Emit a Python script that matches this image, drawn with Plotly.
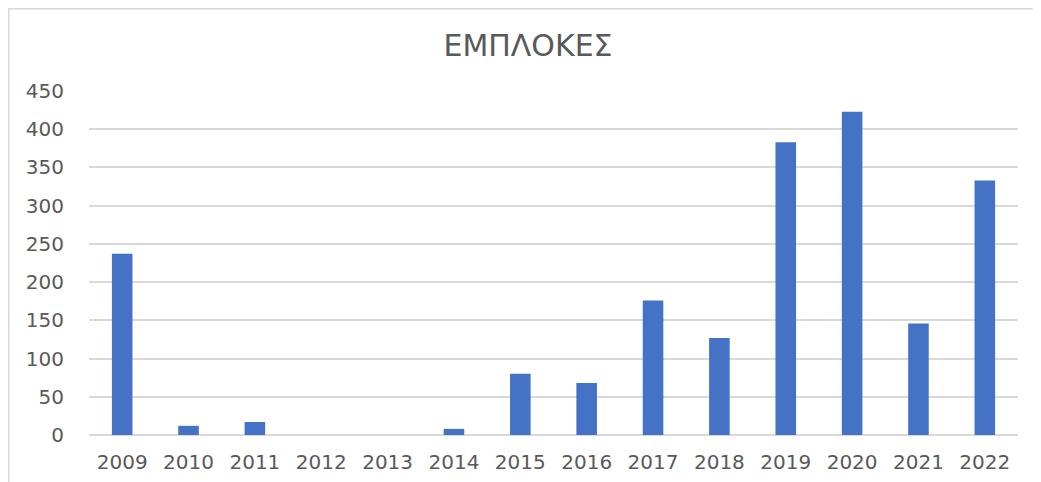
import plotly.graph_objects as go

years = ["2009", "2010", "2011", "2012", "2013", "2014", "2015",
         "2016", "2017", "2018", "2019", "2020", "2021", "2022"]
values = [237, 12, 17, 0, 0, 8, 80, 68, 176, 127, 383, 423, 146, 333]
y_ticks = [0, 50, 100, 150, 200, 250, 300, 350, 400, 450]
title_text = "ΕΜΠΛΟΚΕΣ"

# page body has an 8px margin, so the figure is placed at (8, 8)
OFF = 8
W, H = 1041 - OFF, 482 - OFF
L, R, T, B = 89 - OFF, 23, 91 - OFF, 47
pw, ph = W - L - R, H - T - B

def px_x(x):
    return (x - L) / pw

def px_y(y):
    return (H - B - y) / ph

fig = go.Figure(go.Bar(x=years, y=values, marker=dict(color="#4472C4", line=dict(width=0))))

fig.update_layout(
    width=W, height=H,
    margin=dict(l=L, r=R, t=T, b=B, autoexpand=False),
    paper_bgcolor="white", plot_bgcolor="white",
    bargap=0.69,
    showlegend=False,
    font=dict(family="DejaVu Sans", color="#595959"),
    title=dict(text=title_text, x=(528 - OFF) / W, xanchor="center", y=1 - (45 - OFF) / H, yanchor="middle",
               font=dict(size=30, color="#595959", family="DejaVu Sans")),
    xaxis=dict(type="category", tickfont=dict(size=20, color="#595959"), showgrid=False,
               showline=False, ticks="outside", ticklen=0, ticklabelstandoff=9, automargin=False),
    yaxis=dict(range=[0, 450], tickvals=y_ticks, tickfont=dict(size=20, color="#595959"),
               showgrid=True, gridcolor="#d9d9d9", gridwidth=1.5,
               zeroline=True, zerolinecolor="#d9d9d9", zerolinewidth=1.5,
               showline=False, ticks="outside", ticklen=0, ticklabelstandoff=20, automargin=False),
    shapes=[
        dict(type="line", xref="paper", yref="paper", x0=px_x(0), x1=px_x(W + 5), y0=px_y(0.75), y1=px_y(0.75),
             line=dict(color="#d9d9d9", width=1.5)),
        dict(type="line", xref="paper", yref="paper", x0=px_x(0.75), x1=px_x(0.75), y0=px_y(0), y1=px_y(H + 5),
             line=dict(color="#d9d9d9", width=1.5)),
    ],
)

fig.write_html("out.html")
